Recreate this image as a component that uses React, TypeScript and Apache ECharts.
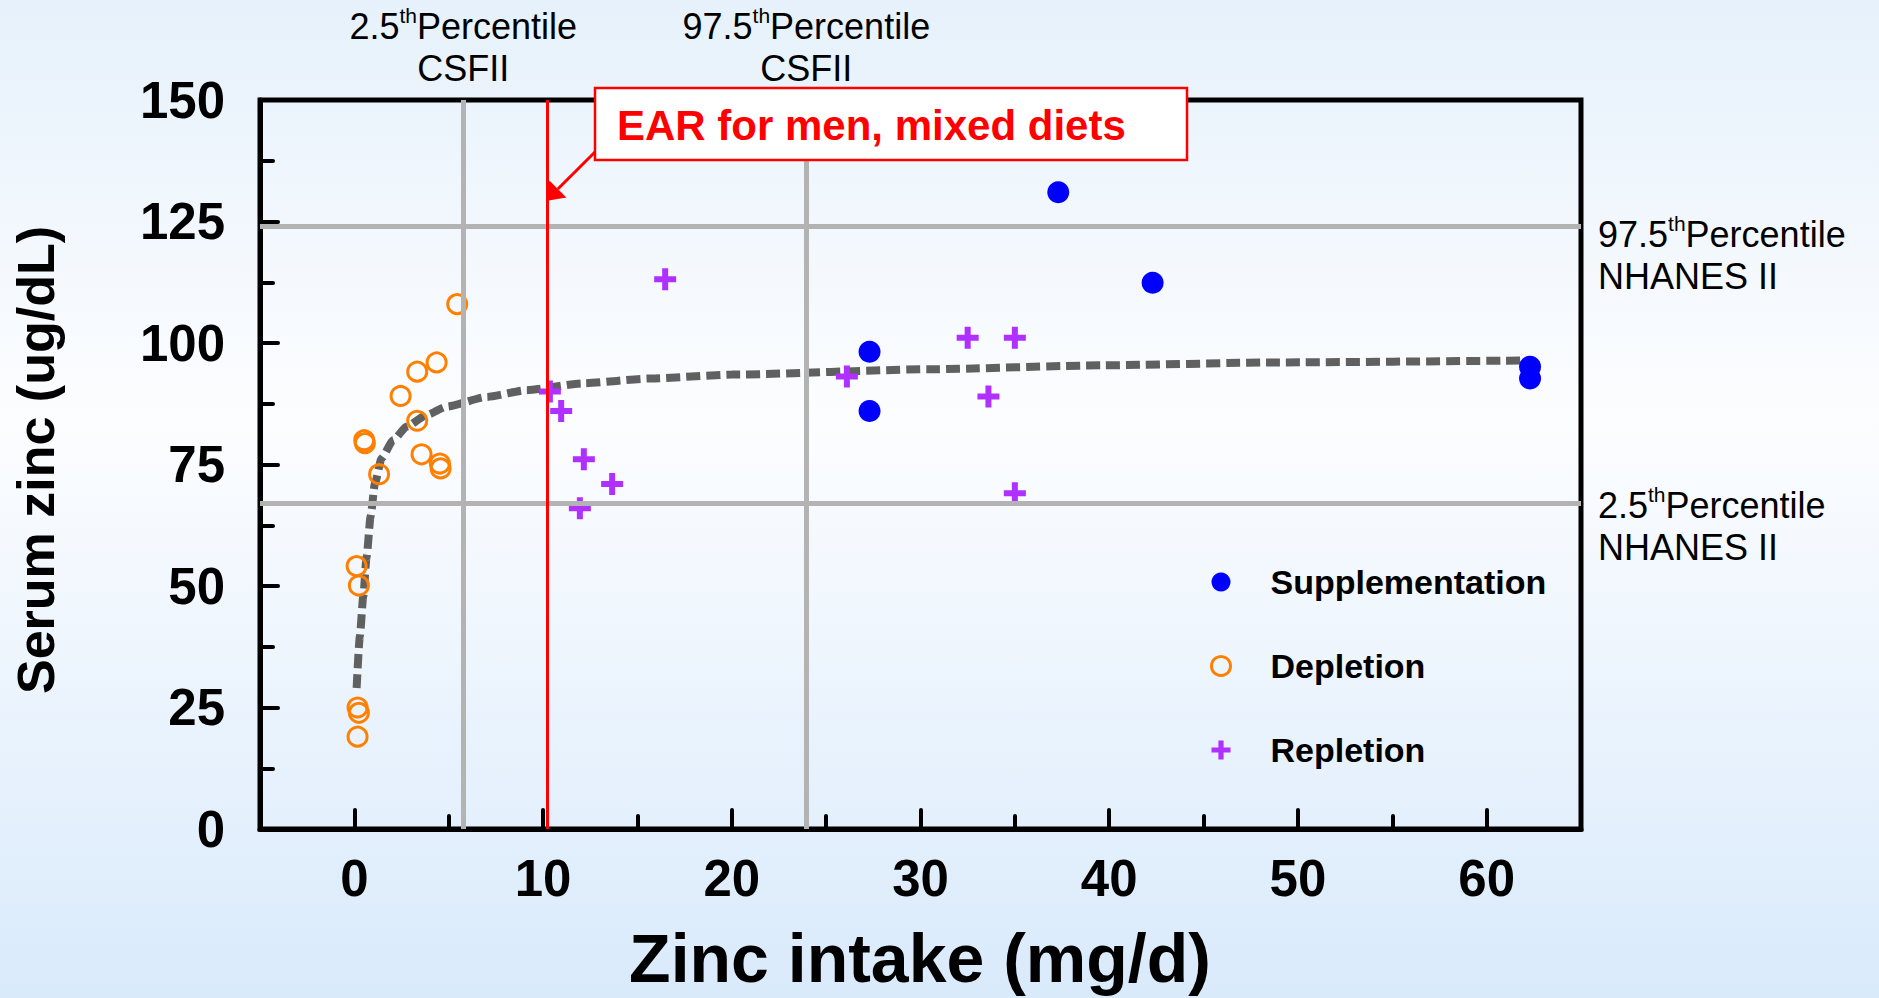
import React, { useEffect, useRef } from 'react';
import * as echarts from 'echarts';

const FONT = "'Liberation Sans', Arial, Helvetica, sans-serif";

// Supplementation (filled blue dots)
const supplementationX = [27.3, 27.3, 37.3, 42.3, 62.3, 62.3];
const supplementationY = [98.2, 86.0, 131.0, 112.4, 95.1, 92.7];

// Depletion (orange open circles)
const depletionX = [5.45, 4.36, 3.33, 2.45, 3.33, 0.52, 0.56, 1.31, 3.56, 4.53, 4.57, 0.12, 0.24, 0.17, 0.24, 0.17];
const depletionY = [108.0, 96.0, 94.1, 89.1, 84.0, 80.0, 79.4, 73.0, 77.1, 75.2, 74.2, 54.1, 50.1, 25.0, 23.9, 19.0];

// Repletion (purple plus)
const repletionX = [10.36, 10.96, 12.16, 13.66, 11.95, 16.47, 26.1, 32.5, 35.0, 33.6, 35.0];
const repletionY = [90.0, 86.0, 76.1, 71.0, 66.0, 113.1, 93.1, 101.1, 101.1, 89.0, 69.1];

// Fitted curve
const trendX = [0.12, 0.29, 0.47, 0.65, 0.86, 1.09, 1.44, 2.06, 2.77, 3.83, 4.89, 7.0, 9.13, 12.1, 15.7, 20.0, 30.5, 39.6, 48.7, 62.0];
const trendY = [29.0, 39.6, 47.8, 56.0, 64.3, 71.1, 76.3, 80.0, 82.8, 85.2, 86.9, 88.9, 90.3, 91.7, 92.7, 93.5, 94.6, 95.4, 96.0, 96.4];

// Reference lines
const nhanesHigh = 124;
const nhanesLow = 67;
const csfiiLow = 5.77;
const csfiiHigh = 23.95;
const earMen = 10.2;

const xMin = -5;
const xMax = 65;
const yMin = 0;
const yMax = 150;

const PLUS = 'path://M8,0H14V8H22V14H14V22H8V14H0V8H8Z';

const pairs = (xs: number[], ys: number[]) => xs.map((x, i) => [x, ys[i]]);

export default function App() {
  const ref = useRef<HTMLDivElement>(null);

  useEffect(() => {
    const chart = echarts.init(ref.current!, null, { renderer: 'svg' });
    const greyLine = { color: '#b3b3b3', width: 5, type: 'solid' };
    chart.setOption({
      animation: false,
      backgroundColor: new echarts.graphic.LinearGradient(0, 0, 0, 1, [
        { offset: 0, color: '#e6f1fb' },
        { offset: 0.42, color: '#fcfdff' },
        { offset: 1, color: '#d9eafb' },
      ]),
      grid: {
        left: 260,
        right: 298,
        top: 100,
        bottom: 169,
        show: true,
        borderColor: '#000',
        borderWidth: 5,
        backgroundColor: 'transparent',
      },
      xAxis: [
        {
          type: 'value',
          min: xMin,
          max: xMax,
          interval: 5,
          position: 'bottom',
          axisLine: { show: true, onZero: false, lineStyle: { color: '#000', width: 5 } },
          axisTick: { show: true, inside: true, length: 13, lineStyle: { color: '#000', width: 4, cap: 'round' } },
          axisLabel: { show: false },
          splitLine: { show: false },
        },
        {
          type: 'value',
          min: xMin,
          max: xMax,
          splitNumber: 7,
          position: 'bottom',
          axisLine: { show: false, onZero: false },
          axisTick: { show: true, inside: true, length: 19, lineStyle: { color: '#000', width: 4, cap: 'round' } },
          axisLabel: {
            formatter: (v: number) => (v % 10 === 0 ? String(v) : ''),
            fontSize: 51,
            fontWeight: 'bold',
            fontFamily: FONT,
            color: '#000',
            margin: 24,
          },
          splitLine: { show: false },
        },
      ],
      yAxis: {
        type: 'value',
        min: yMin,
        max: yMax,
        interval: 25,
        axisLine: { show: true, onZero: false, lineStyle: { color: '#000', width: 5 } },
        axisTick: { show: true, inside: true, length: 18, lineStyle: { color: '#000', width: 4, cap: 'round' } },
        minorTick: { show: true, splitNumber: 2, length: 13, lineStyle: { color: '#000', width: 4, cap: 'round' } },
        axisLabel: { fontSize: 51, fontWeight: 'bold', fontFamily: FONT, color: '#000', margin: 35 },
        splitLine: { show: false },
        minorSplitLine: { show: false },
      },
      legend: {
        orient: 'vertical',
        left: 1205,
        top: 557,
        itemWidth: 19,
        itemHeight: 19,
        itemGap: 44,
        selectedMode: false,
        textStyle: {
          fontSize: 34,
          fontWeight: 'bold',
          fontFamily: FONT,
          color: '#000',
          lineHeight: 40,
          padding: [0, 0, 0, 35],
        },
        data: [
          { name: 'Supplementation', icon: 'circle', itemStyle: { color: '#0000ff', opacity: 1 } },
          { name: 'Depletion', icon: 'circle', itemStyle: { color: 'rgba(0,0,0,0)', borderColor: '#ff8000', borderWidth: 3, opacity: 1 } },
          { name: 'Repletion', icon: PLUS, itemStyle: { color: '#b030ff', opacity: 1 } },
        ],
      },
      series: [
        {
          type: 'line',
          name: 'refs',
          data: [],
          xAxisIndex: 0,
          silent: true,
          z: 1,
          markLine: {
            silent: true,
            symbol: ['none', 'none'],
            label: { show: false },
            data: [
              { yAxis: nhanesHigh, lineStyle: greyLine },
              { yAxis: nhanesLow, lineStyle: greyLine },
              { xAxis: csfiiLow, lineStyle: greyLine },
              { xAxis: csfiiHigh, lineStyle: greyLine },
              { xAxis: earMen, lineStyle: { color: '#ff0000', width: 3, type: 'solid' } },
            ],
          },
        },
        {
          type: 'line',
          name: 'Trend',
          xAxisIndex: 0,
          data: pairs(trendX, trendY),
          symbol: 'none',
          showSymbol: false,
          smooth: 0.2,
          smoothMonotone: 'x',
          silent: true,
          z: 2,
          lineStyle: { color: '#606060', width: 8, type: [14, 6], cap: 'butt', opacity: 1 },
        },
        {
          type: 'scatter',
          name: 'Supplementation',
          xAxisIndex: 0,
          data: pairs(supplementationX, supplementationY),
          symbol: 'circle',
          symbolSize: 22,
          z: 3,
          itemStyle: { color: '#0000ff', opacity: 1 },
        },
        {
          type: 'scatter',
          name: 'Depletion',
          xAxisIndex: 0,
          data: pairs(depletionX, depletionY),
          symbol: 'circle',
          symbolSize: 19,
          z: 3,
          itemStyle: { color: 'rgba(0,0,0,0)', borderColor: '#ff8000', borderWidth: 3, opacity: 1 },
        },
        {
          type: 'scatter',
          name: 'Repletion',
          xAxisIndex: 0,
          data: pairs(repletionX, repletionY),
          symbol: PLUS,
          symbolSize: 22,
          z: 3,
          itemStyle: { color: '#b030ff', opacity: 1 },
        },
      ],
    });

    const px = (v: number) => chart.convertToPixel({ xAxisIndex: 0 }, v) as number;
    const earPx = px(earMen);
    const lowPx = px(csfiiLow);
    const highPx = px(csfiiHigh);

    const labelRich = {
      a: { fontSize: 36, fontFamily: FONT, color: '#000', lineHeight: 42 },
      s: { fontSize: 21, fontFamily: FONT, color: '#000', lineHeight: 38, verticalAlign: 'top' },
    };
    const tipX = earPx - 1;
    const tipY = 201;

    chart.setOption({
      graphic: [
        {
          type: 'text',
          x: lowPx,
          y: 5,
          z: 100,
          style: { text: '{a|2.5}{s|th}{a|Percentile}\n{a|CSFII}', rich: labelRich, align: 'center', verticalAlign: 'top' },
        },
        {
          type: 'text',
          x: highPx,
          y: 5,
          z: 100,
          style: { text: '{a|97.5}{s|th}{a|Percentile}\n{a|CSFII}', rich: labelRich, align: 'center', verticalAlign: 'top' },
        },
        {
          type: 'text',
          x: 1598,
          y: 213,
          z: 100,
          style: { text: '{a|97.5}{s|th}{a|Percentile}\n{a|NHANES II}', rich: labelRich, align: 'left', verticalAlign: 'top' },
        },
        {
          type: 'text',
          x: 1598,
          y: 484,
          z: 100,
          style: { text: '{a|2.5}{s|th}{a|Percentile}\n{a|NHANES II}', rich: labelRich, align: 'left', verticalAlign: 'top' },
        },
        {
          type: 'rect',
          z: 100,
          shape: { x: 595, y: 88, width: 592, height: 72 },
          style: { fill: '#ffffff', stroke: '#ff0000', lineWidth: 2.5 },
        },
        {
          type: 'text',
          x: 617,
          y: 125,
          z: 101,
          style: {
            text: 'EAR for men, mixed diets',
            fontSize: 42,
            fontWeight: 'bold',
            fontFamily: FONT,
            fill: '#ff0000',
            align: 'left',
            verticalAlign: 'middle',
          },
        },
        {
          type: 'line',
          z: 100,
          shape: { x1: 595, y1: 152, x2: tipX + 12, y2: tipY - 12 },
          style: { stroke: '#ff0000', lineWidth: 3 },
        },
        {
          type: 'polygon',
          z: 100,
          shape: { points: [[tipX, tipY], [tipX + 3.5, tipY - 20.5], [tipX + 20.5, tipY - 3.5]] },
          style: { fill: '#ff0000' },
        },
        {
          type: 'text',
          x: 920,
          y: 958,
          z: 100,
          style: {
            text: 'Zinc intake (mg/d)',
            fontSize: 68,
            fontWeight: 'bold',
            fontFamily: FONT,
            fill: '#000',
            align: 'center',
            verticalAlign: 'middle',
          },
        },
        {
          type: 'text',
          x: 36,
          y: 460,
          rotation: Math.PI / 2,
          z: 100,
          style: {
            text: 'Serum zinc (ug/dL)',
            fontSize: 52,
            fontWeight: 'bold',
            fontFamily: FONT,
            fill: '#000',
            align: 'center',
            verticalAlign: 'middle',
          },
        },
      ],
    });

    return () => chart.dispose();
  }, []);

  return <div ref={ref} style={{ position: 'absolute', left: 0, top: 0, width: 1879, height: 998 }} />;
}
